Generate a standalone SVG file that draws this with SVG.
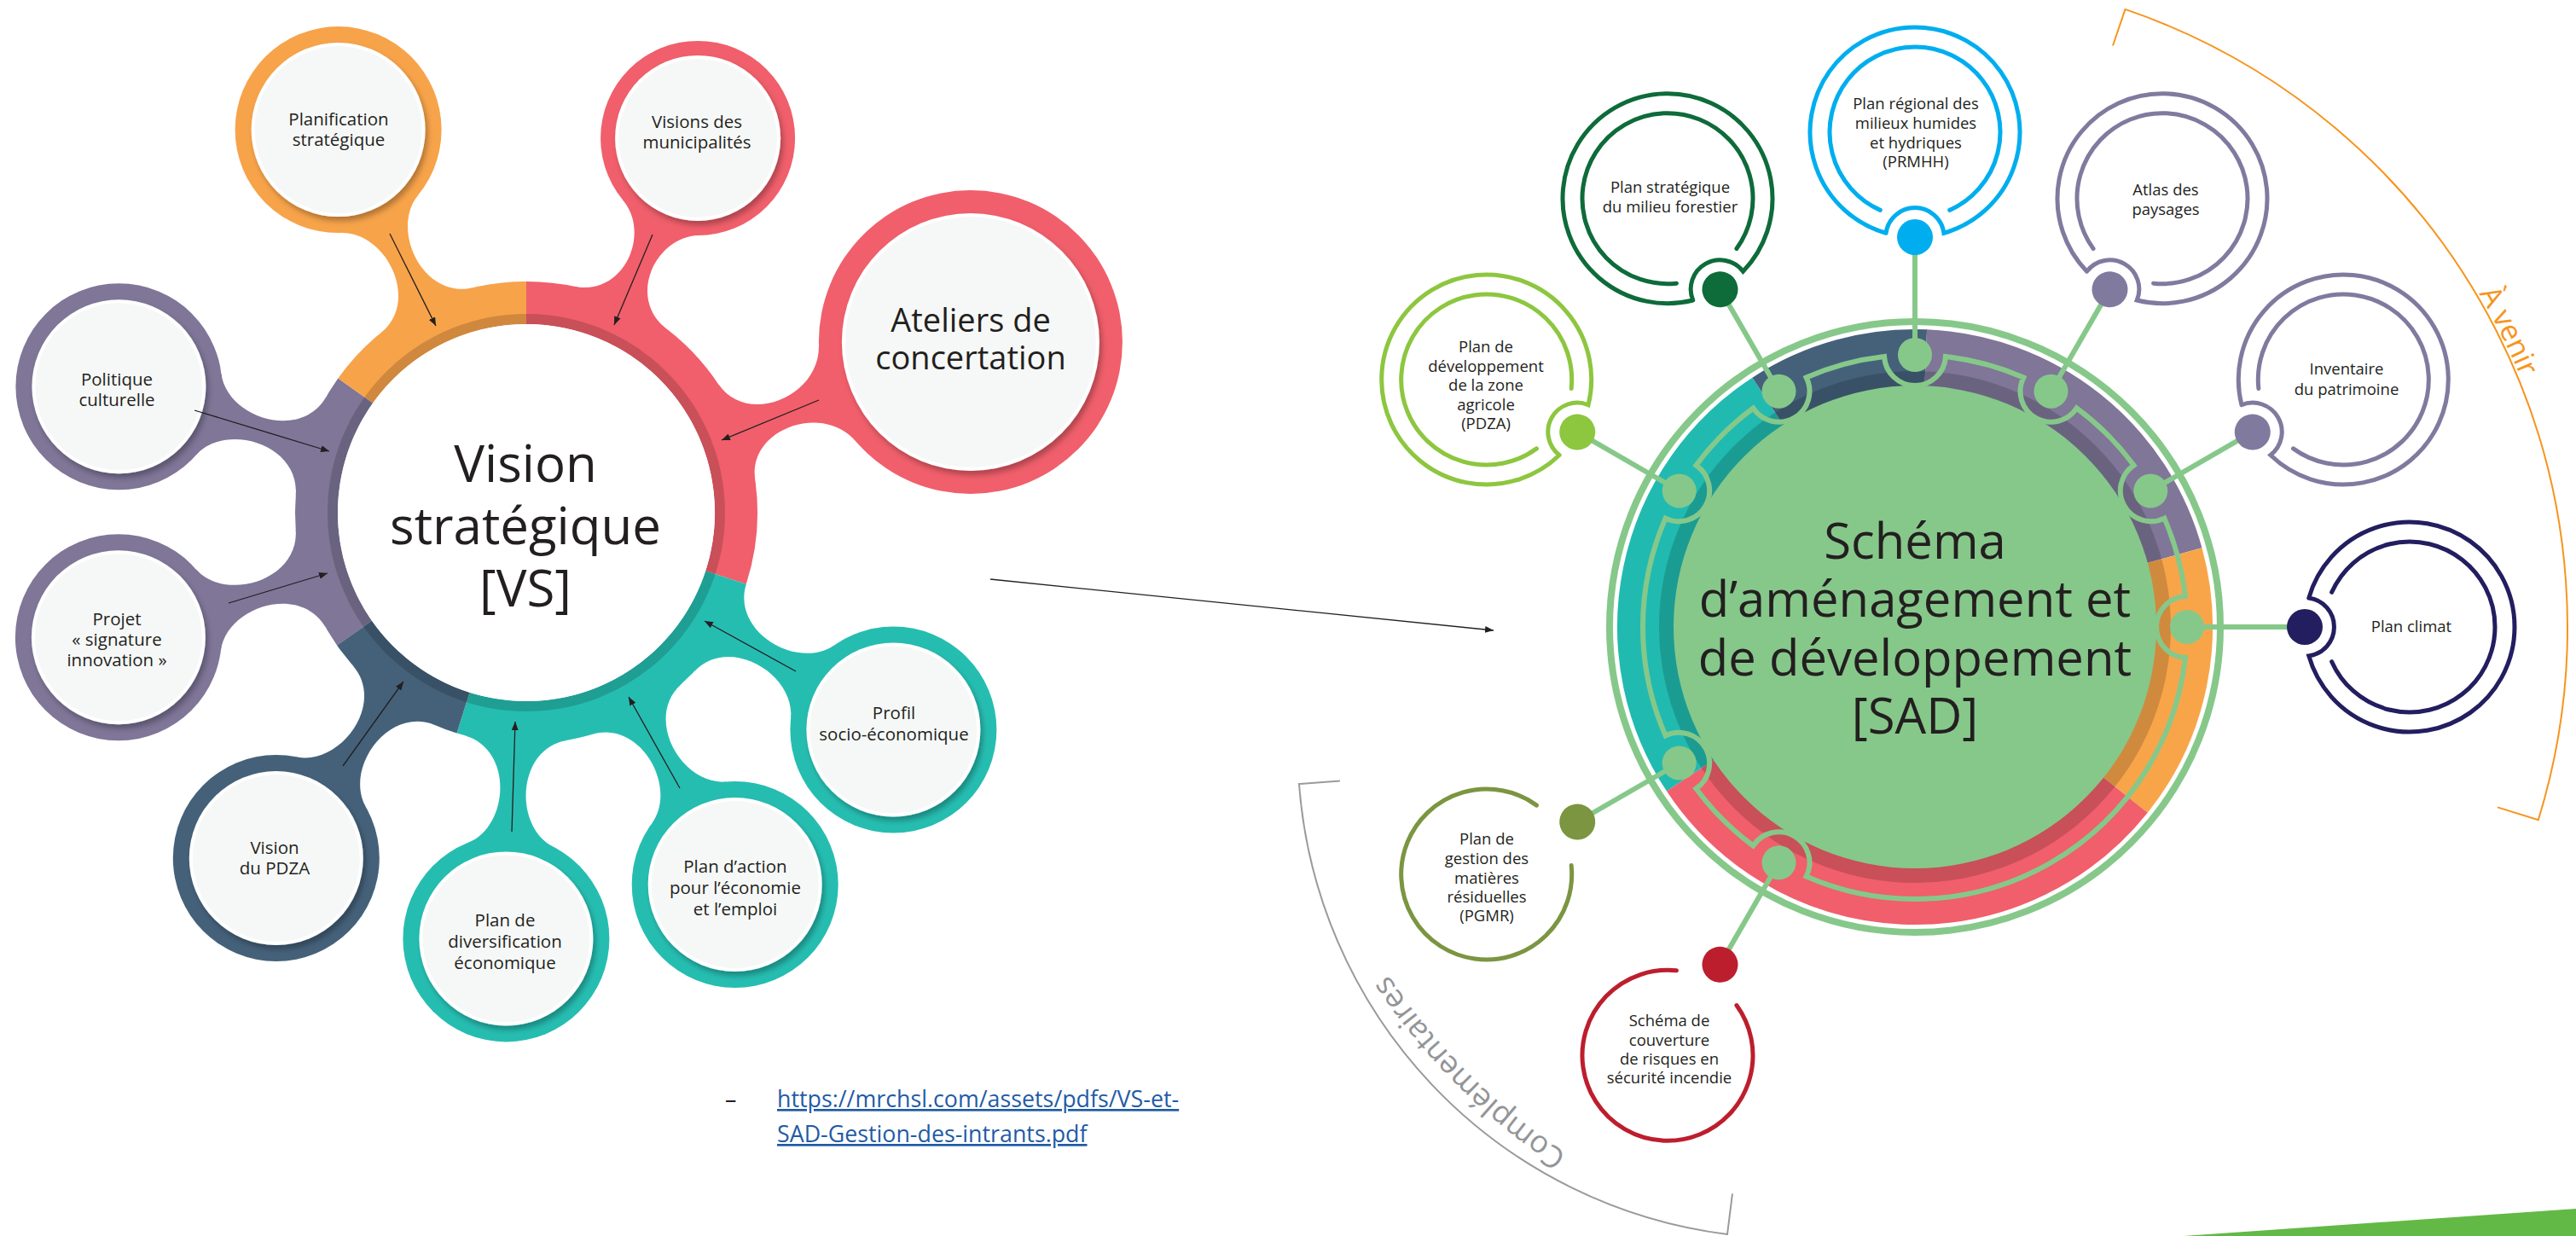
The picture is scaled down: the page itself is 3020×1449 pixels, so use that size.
<svg xmlns="http://www.w3.org/2000/svg" width="3020" height="1449" viewBox="0 0 3020 1449">
<style>
text{font-family:"Open Sans","Liberation Sans",sans-serif;fill:#231F20}
.vsn{font-size:20.5px;text-anchor:middle}
.sat{font-size:18.5px;text-anchor:middle}
.big{font-size:60px;text-anchor:middle}
.sad{font-size:58px;text-anchor:middle}
.inner{fill:#F6F8F7}
.halo{fill:#fff;filter:url(#ds)}
.ring2{fill:none;stroke-width:5;stroke-linecap:round}
.conn{stroke:#86C88A;stroke-width:6;stroke-linecap:round}
.arrow{stroke:#231F20;stroke-width:1.3;fill:none;marker-end:url(#ah)}
.seg{fill:none}
</style>
<defs>
<filter id="ds" x="-20%" y="-20%" width="140%" height="140%"><feDropShadow dx="3" dy="5" stdDeviation="3" flood-color="#000" flood-opacity="0.28"/></filter>
<marker id="ah" viewBox="0 0 10 8" refX="10" refY="4" markerWidth="10" markerHeight="8" markerUnits="userSpaceOnUse" orient="auto"><path d="M0,0 L10,4 L0,8 Z" fill="#231F20"/></marker>
<path id="neckA" d="M264.3,-60 C277.6,-1.5 368.3,-2.6 389.8,-50 L389.8,50 C368.3,2.6 277.6,1.5 264.3,60 Z"/>
<path id="neckB" d="M264.3,-60 C277.6,-1.5 358.6,-2.6 380.6,-50 L380.6,50 C358.6,2.6 277.6,1.5 264.3,60 Z"/>
<path id="neckC" d="M264.3,-60 C277.6,-1.5 370.2,-3.5 390.4,-60 L390.4,60 C370.2,3.5 277.6,1.5 264.3,60 Z"/>
<path id="pAvenir" d="M2788.1,191.9 A768 768 0 0 1 3005.5,628.1"/>
<path id="pCompl" d="M1979.8,1425.9 A740 740 0 0 1 1554.1,1000.2"/>
</defs>
<rect width="3020" height="1449" fill="#fff"/>

<!-- ===== VS side ===== -->
<g id="vs-necks">
<use href="#neckA" transform="translate(617,601) rotate(243.85)" fill="#F7A34A"/>
<use href="#neckB" transform="translate(617,601) rotate(294.6)" fill="#F05F6B"/>
<use href="#neckC" transform="translate(617,601) rotate(-21)" fill="#F05F6B"/>
<use href="#neckA" transform="translate(617,601) rotate(197.2)" fill="#7F7698"/>
<use href="#neckA" transform="translate(617,601) rotate(163)" fill="#7F7698"/>
<use href="#neckA" transform="translate(617,601) rotate(125.9)" fill="#45617A"/>
<use href="#neckA" transform="translate(617,601) rotate(92.7)" fill="#26BDB1"/>
<use href="#neckA" transform="translate(617,601) rotate(60.7)" fill="#26BDB1"/>
<use href="#neckA" transform="translate(617,601) rotate(30.6)" fill="#26BDB1"/>
</g>

<g id="vs-center">
<g stroke-width="50">
<path class="seg" stroke="#7F7698" d="M415.5,742.1 A246 246 0 0 1 416.7,458.1"/>
<path class="seg" stroke="#F7A34A" d="M416.7,458.1 A246 246 0 0 1 617,355"/>
<path class="seg" stroke="#F05F6B" d="M617,355 A246 246 0 0 1 851,677"/>
<path class="seg" stroke="#26BDB1" d="M851,677 A246 246 0 0 1 543,835.6"/>
<path class="seg" stroke="#45617A" d="M543,835.6 A246 246 0 0 1 415.5,742.1"/>
</g>
<circle cx="617" cy="601" r="227" fill="none" stroke="#000" stroke-opacity="0.16" stroke-width="12"/>
<circle cx="617" cy="601" r="221" fill="#fff"/>
<text class="big" x="616" y="565">Vision</text>
<text class="big" x="616" y="638">stratégique</text>
<text class="big" x="616" y="711">[VS]</text>
</g>

<g id="vs-planification">
<circle cx="396.6" cy="152.1" r="121" fill="#F7A34A"/>
<circle cx="396.6" cy="152.1" r="102" class="halo"/>
<circle cx="396.6" cy="152.1" r="98" class="inner"/>
<text class="vsn" x="397" y="147">Planification</text>
<text class="vsn" x="397" y="171">stratégique</text>
</g>
<g id="vs-visions">
<circle cx="818.1" cy="161.9" r="114" fill="#F05F6B"/>
<circle cx="818.1" cy="161.9" r="97" class="halo"/>
<circle cx="818.1" cy="161.9" r="93" class="inner"/>
<text class="vsn" x="817" y="150">Visions des</text>
<text class="vsn" x="817" y="174">municipalités</text>
</g>
<g id="vs-ateliers">
<circle cx="1137.9" cy="401" r="178" fill="#F05F6B"/>
<circle cx="1137.9" cy="401" r="151" class="halo"/>
<circle cx="1137.9" cy="401" r="147" class="inner"/>
<text x="1138" y="389" font-size="38" text-anchor="middle">Ateliers de</text>
<text x="1138" y="433" font-size="38" text-anchor="middle">concertation</text>
</g>
<g id="vs-politique">
<circle cx="139.4" cy="453.2" r="121" fill="#7F7698"/>
<circle cx="139.4" cy="453.2" r="102" class="halo"/>
<circle cx="139.4" cy="453.2" r="98" class="inner"/>
<text class="vsn" x="137" y="452">Politique</text>
<text class="vsn" x="137" y="476">culturelle</text>
</g>
<g id="vs-projet">
<circle cx="138.9" cy="747.2" r="121" fill="#7F7698"/>
<circle cx="138.9" cy="747.2" r="102" class="halo"/>
<circle cx="138.9" cy="747.2" r="98" class="inner"/>
<text class="vsn" x="137" y="733">Projet</text>
<text class="vsn" x="137" y="757">« signature</text>
<text class="vsn" x="137" y="781">innovation »</text>
</g>
<g id="vs-vision-pdza">
<circle cx="323.8" cy="1006" r="121" fill="#45617A"/>
<circle cx="323.8" cy="1006" r="102" class="halo"/>
<circle cx="323.8" cy="1006" r="98" class="inner"/>
<text class="vsn" x="322" y="1001">Vision</text>
<text class="vsn" x="322" y="1025">du PDZA</text>
</g>
<g id="vs-diversification">
<circle cx="593.4" cy="1100.4" r="121" fill="#26BDB1"/>
<circle cx="593.4" cy="1100.4" r="102" class="halo"/>
<circle cx="593.4" cy="1100.4" r="98" class="inner"/>
<text class="vsn" x="592" y="1086">Plan de</text>
<text class="vsn" x="592" y="1111">diversification</text>
<text class="vsn" x="592" y="1136">économique</text>
</g>
<g id="vs-plan-action">
<circle cx="861.7" cy="1037" r="121" fill="#26BDB1"/>
<circle cx="861.7" cy="1037" r="102" class="halo"/>
<circle cx="861.7" cy="1037" r="98" class="inner"/>
<text class="vsn" x="862" y="1023">Plan d’action</text>
<text class="vsn" x="862" y="1048">pour l’économie</text>
<text class="vsn" x="862" y="1073">et l’emploi</text>
</g>
<g id="vs-profil">
<circle cx="1047.4" cy="855.5" r="121" fill="#26BDB1"/>
<circle cx="1047.4" cy="855.5" r="102" class="halo"/>
<circle cx="1047.4" cy="855.5" r="98" class="inner"/>
<text class="vsn" x="1048" y="843">Profil</text>
<text class="vsn" x="1048" y="868">socio-économique</text>
</g>

<g id="vs-connectors">
<line class="arrow" x1="457" y1="274" x2="511" y2="382"/>
<line class="arrow" x1="765" y1="275" x2="720" y2="381"/>
<line class="arrow" x1="960" y1="469" x2="846" y2="516"/>
<line class="arrow" x1="228" y1="481" x2="386" y2="529"/>
<line class="arrow" x1="268" y1="707" x2="384" y2="672"/>
<line class="arrow" x1="402" y1="898" x2="473" y2="799"/>
<line class="arrow" x1="600" y1="975" x2="604" y2="846"/>
<line class="arrow" x1="797" y1="924" x2="737" y2="817"/>
<line class="arrow" x1="933" y1="787" x2="826" y2="728"/>
<line class="arrow" x1="1161" y1="679" x2="1751" y2="739"/>
</g>

<g id="link">
<text x="850" y="1298" font-size="26.8" fill="#231F20">–</text>
<text x="911" y="1298" font-size="26.8" style="fill:#1F5BA6" text-decoration="underline">https://mrchsl.com/assets/pdfs/VS-et-</text>
<text x="911" y="1339" font-size="26.8" style="fill:#1F5BA6" text-decoration="underline">SAD-Gestion-des-intrants.pdf</text>
</g>

<!-- ===== SAD side ===== -->
<g id="brackets" fill="none">
<path d="M2477,53.5 L2491.5,10.9 A765 765 0 0 1 2975.8,961.2 L2928,946.4" stroke="#F7941D" stroke-width="2"/>
<path d="M1570.9,915.5 L1523,919 A575 575 0 0 0 2025,1447 L2031,1399.4" stroke="#9A9A9A" stroke-width="2"/>
<text font-size="34" style="fill:#F7941D"><textPath href="#pAvenir" startOffset="50%" text-anchor="middle">À venir</textPath></text>
<text font-size="36" style="fill:#939598"><textPath href="#pCompl" startOffset="50%" text-anchor="middle">Complémentaires</textPath></text>
</g>

<g id="sad-center">
<circle cx="2245" cy="735" r="358" fill="none" stroke="#86C88A" stroke-width="8"/>
<g stroke-width="67">
<path class="seg" stroke="#21BAB0" d="M1981.9,909.1 A315.5 315.5 0 0 1 2072.7,470.7"/>
<path class="seg" stroke="#45617A" d="M2072.7,470.7 A315.5 315.5 0 0 1 2257.7,419.8"/>
<path class="seg" stroke="#7F7698" d="M2257.7,419.8 A315.5 315.5 0 0 1 2549.2,651.2"/>
<path class="seg" stroke="#F8A54A" d="M2549.2,651.2 A315.5 315.5 0 0 1 2491.6,931.9"/>
<path class="seg" stroke="#F05F6B" d="M2491.6,931.9 A315.5 315.5 0 0 1 1981.9,909.1"/>
</g>
<circle cx="2245" cy="735" r="291" fill="none" stroke="#000" stroke-opacity="0.16" stroke-width="18"/>
<circle cx="2245" cy="735" r="283" fill="#86C88A"/>
<path fill="none" stroke="#86C88A" stroke-width="6" d="M2561.97,770.94 A319 319 0 0 1 2117.63,1027.47 A36 36 0 0 0 2055.38,991.53 A319 319 0 0 1 1988.43,924.55 A36 36 0 0 0 1952.53,862.37 A319 319 0 0 1 1952.53,607.63 A36 36 0 0 0 1988.43,545.45 A319 319 0 0 1 2055.38,478.47 A36 36 0 0 0 2117.63,442.53 A319 319 0 0 1 2209.06,418.03 A36 36 0 0 0 2280.94,418.03 A319 319 0 0 1 2372.37,442.53 A36 36 0 0 0 2434.62,478.47 A319 319 0 0 1 2501.57,545.45 A36 36 0 0 0 2537.47,607.63 A319 319 0 0 1 2561.97,699.06 A36 36 0 0 0 2561.97,770.94 Z"/>
<text class="sad" x="2245" y="655">Schéma</text>
<text class="sad" x="2245" y="723">d’aménagement et</text>
<text class="sad" x="2245" y="792">de développement</text>
<text class="sad" x="2245" y="860">[SAD]</text>
</g>

<g id="sad-connectors">
<line class="conn" x1="1849.2" y1="506.5" x2="1968.7" y2="575.5"/>
<line class="conn" x1="2016.5" y1="339.2" x2="2085.5" y2="458.7"/>
<line class="conn" x1="2245" y1="278" x2="2245" y2="416"/>
<line class="conn" x1="2473.5" y1="339.2" x2="2404.5" y2="458.7"/>
<line class="conn" x1="2640.8" y1="506.5" x2="2521.3" y2="575.5"/>
<line class="conn" x1="2702" y1="735" x2="2564" y2="735"/>
<line class="conn" x1="2016.5" y1="1130.8" x2="2085.5" y2="1011.3"/>
<line class="conn" x1="1849.2" y1="963.5" x2="1968.7" y2="894.5"/>
</g>
<g id="track-dots" fill="#86C88A">
<circle cx="1968.7" cy="575.5" r="20"/>
<circle cx="2085.5" cy="458.7" r="20"/>
<circle cx="2245" cy="416" r="20"/>
<circle cx="2404.5" cy="458.7" r="20"/>
<circle cx="2521.3" cy="575.5" r="20"/>
<circle cx="2564" cy="735" r="20"/>
<circle cx="2085.5" cy="1011.3" r="20"/>
<circle cx="1968.7" cy="894.5" r="20"/>
</g>

<g id="sat-pdza">
<g transform="translate(1742.7,445) rotate(30)" stroke="#8DC63F">
<path class="ring2" d="M118.24,33.9 A123 123 0 1 1 118.24,-33.9 A34.2 34.2 0 0 0 118.24,33.9"/>
<path class="ring2" d="M91.35,40.67 A100 100 0 1 1 91.35,-40.67"/>
<circle cx="123" cy="0" r="21" fill="#8DC63F" stroke="none"/>
</g>
<text class="sat" x="1742" y="413">Plan de</text>
<text class="sat" x="1742" y="436">développement</text>
<text class="sat" x="1742" y="458">de la zone</text>
<text class="sat" x="1742" y="481">agricole</text>
<text class="sat" x="1742" y="503">(PDZA)</text>
</g>
<g id="sat-forestier">
<g transform="translate(1955,232.7) rotate(60)" stroke="#0E6B3A">
<path class="ring2" d="M118.24,33.9 A123 123 0 1 1 118.24,-33.9 A34.2 34.2 0 0 0 118.24,33.9"/>
<path class="ring2" d="M91.35,40.67 A100 100 0 1 1 91.35,-40.67"/>
<circle cx="123" cy="0" r="21" fill="#0E6B3A" stroke="none"/>
</g>
<text class="sat" x="1958" y="226">Plan stratégique</text>
<text class="sat" x="1958" y="249">du milieu forestier</text>
</g>
<g id="sat-prmhh">
<g transform="translate(2245,155) rotate(90)" stroke="#00AEEF">
<path class="ring2" d="M118.24,33.9 A123 123 0 1 1 118.24,-33.9 A34.2 34.2 0 0 0 118.24,33.9"/>
<path class="ring2" d="M91.35,40.67 A100 100 0 1 1 91.35,-40.67"/>
<circle cx="123" cy="0" r="21" fill="#00AEEF" stroke="none"/>
</g>
<text class="sat" x="2246" y="128">Plan régional des</text>
<text class="sat" x="2246" y="151">milieux humides</text>
<text class="sat" x="2246" y="174">et hydriques</text>
<text class="sat" x="2246" y="196">(PRMHH)</text>
</g>
<g id="sat-atlas">
<g transform="translate(2535,232.7) rotate(120)" stroke="#817A9F">
<path class="ring2" d="M118.24,33.9 A123 123 0 1 1 118.24,-33.9 A34.2 34.2 0 0 0 118.24,33.9"/>
<path class="ring2" d="M91.35,40.67 A100 100 0 1 1 91.35,-40.67"/>
<circle cx="123" cy="0" r="21" fill="#817A9F" stroke="none"/>
</g>
<text class="sat" x="2539" y="229">Atlas des</text>
<text class="sat" x="2539" y="252">paysages</text>
</g>
<g id="sat-inventaire">
<g transform="translate(2747.3,445) rotate(150)" stroke="#817A9F">
<path class="ring2" d="M118.24,33.9 A123 123 0 1 1 118.24,-33.9 A34.2 34.2 0 0 0 118.24,33.9"/>
<path class="ring2" d="M91.35,40.67 A100 100 0 1 1 91.35,-40.67"/>
<circle cx="123" cy="0" r="21" fill="#817A9F" stroke="none"/>
</g>
<text class="sat" x="2751" y="439">Inventaire</text>
<text class="sat" x="2751" y="463">du patrimoine</text>
</g>
<g id="sat-climat">
<g transform="translate(2825,735) rotate(180)" stroke="#221E5F">
<path class="ring2" d="M118.24,33.9 A123 123 0 1 1 118.24,-33.9 A34.2 34.2 0 0 0 118.24,33.9"/>
<path class="ring2" d="M91.35,40.67 A100 100 0 1 1 91.35,-40.67"/>
<circle cx="123" cy="0" r="21" fill="#221E5F" stroke="none"/>
</g>
<text class="sat" x="2827" y="741">Plan climat</text>
</g>
<g id="sat-pgmr">
<g transform="translate(1742.7,1025) rotate(330)" stroke="#7B9541">
<path class="ring2" d="M91.35,40.67 A100 100 0 1 1 91.35,-40.67"/>
<circle cx="123" cy="0" r="21" fill="#7B9541" stroke="none"/>
</g>
<text class="sat" x="1743" y="990">Plan de</text>
<text class="sat" x="1743" y="1013">gestion des</text>
<text class="sat" x="1743" y="1036">matières</text>
<text class="sat" x="1743" y="1058">résiduelles</text>
<text class="sat" x="1743" y="1080">(PGMR)</text>
</g>
<g id="sat-incendie">
<g transform="translate(1955,1237.3) rotate(300)" stroke="#BD1E2D">
<path class="ring2" d="M91.35,40.67 A100 100 0 1 1 91.35,-40.67"/>
<circle cx="123" cy="0" r="21" fill="#BD1E2D" stroke="none"/>
</g>
<text class="sat" x="1957" y="1203">Schéma de</text>
<text class="sat" x="1957" y="1226">couverture</text>
<text class="sat" x="1957" y="1248">de risques en</text>
<text class="sat" x="1957" y="1270">sécurité incendie</text>
</g>

<polygon id="green-band" points="2560,1449 3020,1417 3020,1449" fill="#62B946"/>
</svg>
